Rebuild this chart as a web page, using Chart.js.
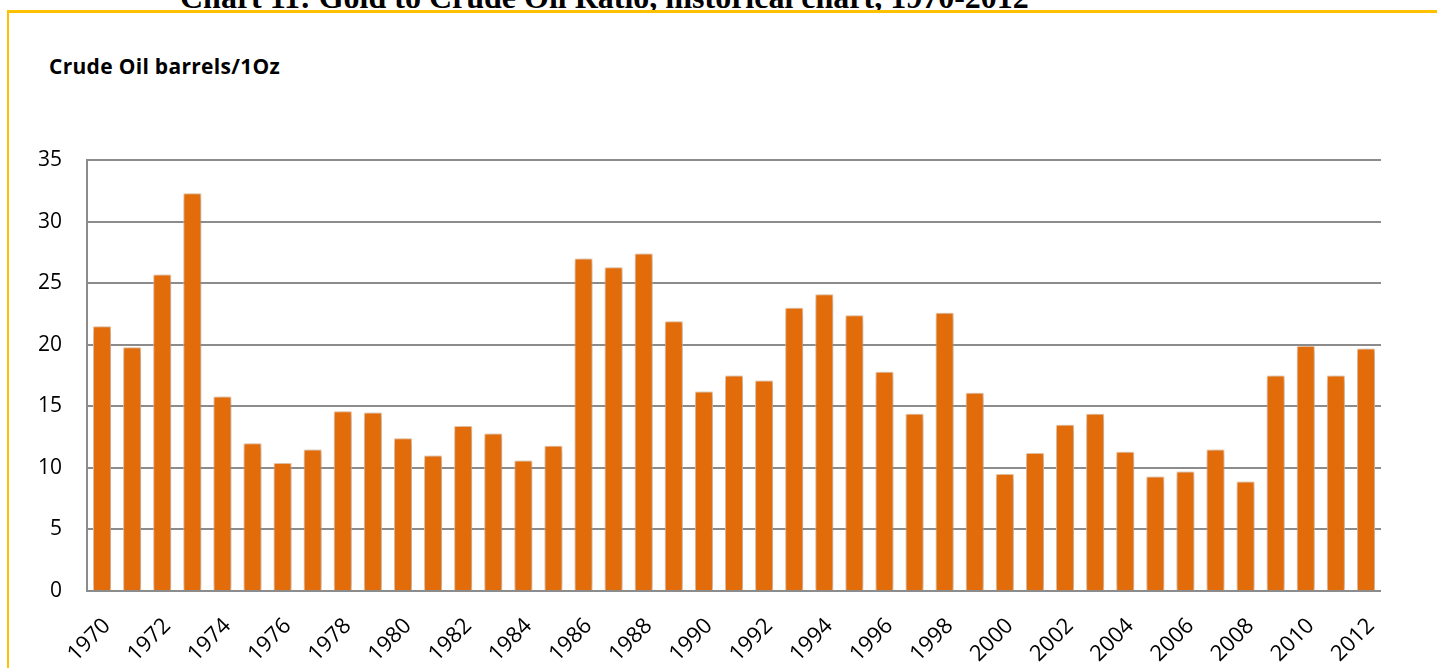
<!DOCTYPE html>
<html>
<head>
<meta charset="utf-8">
<script src="https://cdn.jsdelivr.net/npm/chart.js@4"></script>
<style>
  html, body { margin: 0; padding: 0; background: #fff; overflow: hidden; }
  #wrap { position: relative; width: 1437px; height: 668px; }
  #titulo {
    position: absolute; left: 180px; top: -21px; white-space: nowrap; line-height: 1;
    font: bold 32px "Liberation Serif", "Times New Roman", serif; color: #000;
  }
  #moldura {
    position: absolute; left: 7px; top: 10px; width: 1460px; height: 700px;
    border-top: 3px solid #FFC000; border-left: 2px solid #FFC000;
  }
  #rotulo-y {
    position: absolute; left: 49px; top: 52px; white-space: nowrap; line-height: 1;
    font: bold 21px "Open Sans", sans-serif; letter-spacing: 0.3px; color: #000;
  }
  canvas { position: absolute; left: 0; top: 0; }
</style>
</head>
<body>
<div id="wrap">
  <div id="titulo">Chart 11: Gold to Crude Oil Ratio, historical chart, 1970-2012</div>
  <div id="moldura"></div>
  <div id="rotulo-y">Crude Oil barrels/1Oz</div>
  <canvas id="grafico" width="1437" height="668"></canvas>
</div>
<script>
const anos = [];
for (let a = 1970; a <= 2012; a++) anos.push(String(a));

const razaoOuroPetroleo = [
  21.5, 19.8, 25.7, 32.3, 15.8, 12.0, 10.4, 11.5, 14.6, 14.5,
  12.4, 11.0, 13.4, 12.8, 10.6, 11.8, 27.0, 26.3, 27.4, 21.9,
  16.2, 17.5, 17.1, 23.0, 24.1, 22.4, 17.8, 14.4, 22.6, 16.1,
  9.5, 11.2, 13.5, 14.4, 11.3, 9.3, 9.7, 11.5, 8.9, 17.5,
  19.9, 17.5, 19.7
];

const ticksY = [0, 5, 10, 15, 20, 25, 30, 35];

// sombra suave atrás das barras
const sombraBarras = {
  id: 'sombraBarras',
  beforeDatasetsDraw(chart) {
    const ctx = chart.ctx;
    ctx.save();
    ctx.shadowColor = 'rgba(0,0,0,0.35)';
    ctx.shadowBlur = 8;
    ctx.shadowOffsetX = 1;
    ctx.shadowOffsetY = 1;
  },
  afterDatasetsDraw(chart) {
    chart.ctx.restore();
  },
};

new Chart(document.getElementById('grafico'), {
  type: 'bar',
  data: {
    labels: anos,
    datasets: [{
      data: razaoOuroPetroleo,
      backgroundColor: '#E36C0A',
      borderColor: '#FBD4B4',
      borderWidth: 1,
      barPercentage: 0.6,
      categoryPercentage: 1,
    }],
  },
  options: {
    responsive: false,
    animation: false,
    layout: { padding: { left: 0, top: 160, right: 56, bottom: 0 } },
    plugins: { legend: { display: false }, tooltip: { enabled: false } },
    scales: {
      x: {
        afterFit: (s) => { s.height = 77; },
        grid: { display: false, drawTicks: false },
        border: { display: false },
        ticks: {
          autoSkip: false,
          minRotation: 45,
          maxRotation: 45,
          padding: 22,
          labelOffset: 5,
          color: '#000',
          font: { family: 'Open Sans', size: 22 },
          callback: (v, i) => (i % 2 === 0 ? anos[i] : ''),
        },
      },
      y: {
        min: 0,
        max: 35,
        afterFit: (s) => { s.width = 87; },
        afterBuildTicks: (s) => { s.ticks = ticksY.map((v) => ({ value: v })); },
        grid: { color: '#8C8C8C', lineWidth: 2, drawTicks: false },
        border: { color: '#8C8C8C', width: 2 },
        ticks: {
          padding: 25,
          color: '#000',
          font: { family: 'Open Sans', size: 21 },
        },
      },
    },
  },
  plugins: [sombraBarras],
});
</script>
</body>
</html>
